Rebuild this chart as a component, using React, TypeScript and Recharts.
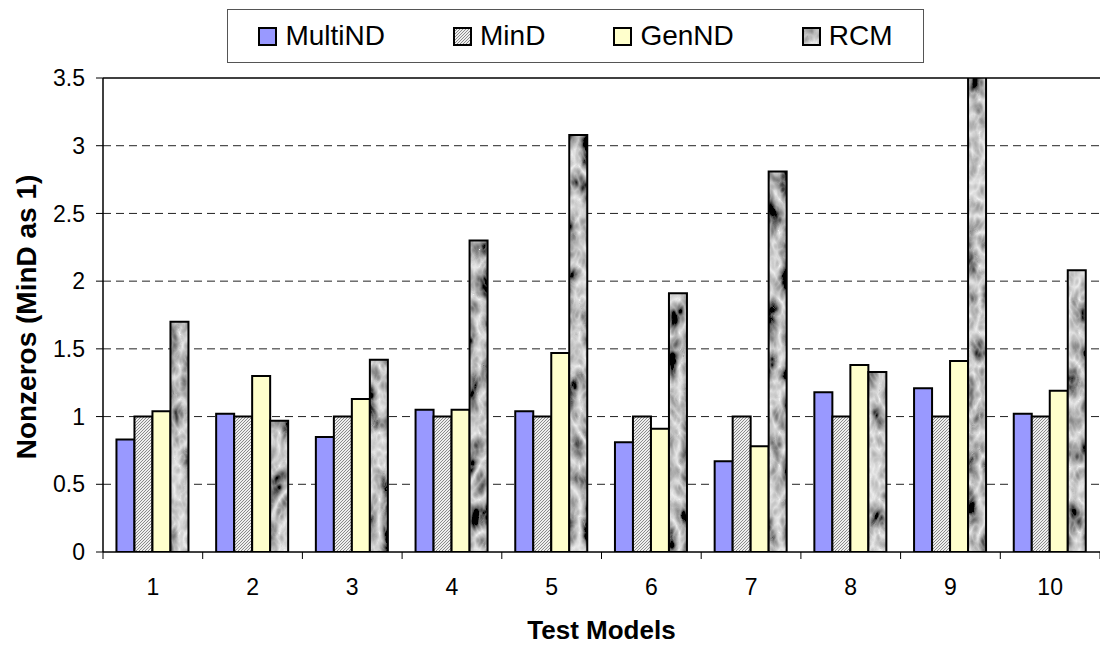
import { BarChart, Bar, XAxis, YAxis, CartesianGrid, Legend, ReferenceLine } from "recharts";

const models = ["1", "2", "3", "4", "5", "6", "7", "8", "9", "10"];
const multiND = [0.83, 1.02, 0.85, 1.05, 1.04, 0.81, 0.67, 1.18, 1.21, 1.02];
const minD = [1, 1, 1, 1, 1, 1, 1, 1, 1, 1];
const genND = [1.04, 1.3, 1.13, 1.05, 1.47, 0.91, 0.78, 1.38, 1.41, 1.19];
const rcm = [1.7, 0.97, 1.42, 2.3, 3.08, 1.91, 2.81, 1.33, 3.7, 2.08];
const yTicks = [0, 0.5, 1, 1.5, 2, 2.5, 3, 3.5];

const series = [
  { key: "MultiND", fill: "#9999FF" },
  { key: "MinD", fill: "url(#hatch)" },
  { key: "GenND", fill: "#FFFFCC" },
  { key: "RCM", fill: "url(#granite)" },
];

const data = models.map((m, i) => ({
  model: m,
  MultiND: multiND[i],
  MinD: minD[i],
  GenND: genND[i],
  RCM: rcm[i],
}));

const W = 1100;
const H = 646;
const Y_AXIS_W = 103;
const BAND = (W - Y_AXIS_W) / models.length;
const FONT = "'Liberation Sans', Arial, sans-serif";

// x ticks sit on category boundaries, like the old Excel charts
function ModelTick(props: any) {
  const { x, y, payload, index } = props;
  const axisY = y - 7 - 20;
  return (
    <g>
      <line x1={x - BAND / 2} x2={x - BAND / 2} y1={axisY} y2={axisY + 7} stroke="#000" />
      {index === models.length - 1 && (
        <line x1={x + BAND / 2} x2={x + BAND / 2} y1={axisY} y2={axisY + 7} stroke="#000" />
      )}
      <text x={x} y={y} dy="0.71em" textAnchor="middle" fill="#000" fontSize={23} fontFamily={FONT}>
        {payload.value}
      </text>
    </g>
  );
}

function LegendBox() {
  return (
    <div
      style={{
        boxSizing: "border-box",
        width: 697,
        height: 54,
        border: "1.5px solid #555",
        background: "#fff",
        display: "flex",
        alignItems: "center",
        justifyContent: "center",
        gap: 68,
        fontFamily: FONT,
        fontSize: 28,
        color: "#000",
      }}
    >
      {series.map((s) => (
        <div key={s.key} style={{ display: "flex", alignItems: "center", gap: 8 }}>
          <svg width={19} height={19}>
            <rect x={1} y={1} width={17} height={17} fill={s.fill} stroke="#000" strokeWidth={2} />
          </svg>
          <span>{s.key}</span>
        </div>
      ))}
    </div>
  );
}

export default function App() {
  return (
    <div style={{ position: "absolute", left: 0, top: 0, width: W, height: H, background: "#fff" }}>
      <BarChart
        width={W}
        height={H}
        data={data}
        margin={{ top: 78, right: 0, bottom: 0, left: 0 }}
        barCategoryGap="13.5%"
        barGap={0}
      >
        <defs>
          <pattern id="hatch" patternUnits="userSpaceOnUse" width={3} height={3}>
            <rect width={3} height={3} fill="#eeeeee" />
            <path d="M0,3 L3,0 M-1,1 L1,-1 M2,4 L4,2" stroke="#8a8a8a" strokeWidth={1} />
          </pattern>
          {/* stone-like texture for the RCM bars */}
          <filter id="graniteFx" x="0" y="0" width="100%" height="100%">
            <feTurbulence type="turbulence" baseFrequency="0.05 0.03" numOctaves={3} seed={7} />
            <feColorMatrix
              type="matrix"
              values="-1.4 0 0 0 0.86  -1.4 0 0 0 0.86  -1.4 0 0 0 0.86  0 0 0 0 1"
            />
          </filter>
          <pattern id="granite" patternUnits="userSpaceOnUse" width={W} height={H}>
            <rect width={W} height={H} fill="#999" filter="url(#graniteFx)" />
          </pattern>
        </defs>
        <CartesianGrid
          vertical={false}
          stroke="#222"
          strokeDasharray="8 5"
          horizontalValues={[0.5, 1, 1.5, 2, 2.5, 3]}
        />
        <XAxis
          dataKey="model"
          height={H - 78 - 474}
          axisLine={{ stroke: "#000", strokeWidth: 1.5 }}
          tickLine={false}
          tickSize={7}
          tickMargin={20}
          tick={<ModelTick />}
          interval={0}
          label={{
            value: "Test Models",
            position: "insideBottom",
            offset: 7,
            fill: "#000",
            fontSize: 26,
            fontWeight: 700,
            fontFamily: FONT,
          }}
        />
        <YAxis
          width={Y_AXIS_W}
          domain={[0, 3.5]}
          ticks={yTicks}
          allowDataOverflow
          axisLine={{ stroke: "#000", strokeWidth: 1.5 }}
          tickLine={{ stroke: "#000" }}
          tickSize={7}
          tickMargin={11}
          tick={{ fill: "#000", fontSize: 23, fontFamily: FONT }}
          label={{
            content: () => (
              <text
                x={36}
                y={317}
                transform="rotate(-90, 36, 317)"
                textAnchor="middle"
                fill="#000"
                fontSize={28}
                fontWeight={700}
                fontFamily={FONT}
              >
                Nonzeros (MinD as 1)
              </text>
            ),
          }}
        />
        <ReferenceLine y={3.5} stroke="#000" strokeWidth={1.5} />
        <Legend
          layout="horizontal"
          verticalAlign="middle"
          align="center"
          wrapperStyle={{ top: 9, left: 227, width: 697, height: 54 }}
          content={() => <LegendBox />}
        />
        {series.map((s) => (
          <Bar
            key={s.key}
            dataKey={s.key}
            fill={s.fill}
            stroke="#000"
            strokeWidth={2}
            isAnimationActive={false}
          />
        ))}
      </BarChart>
    </div>
  );
}
